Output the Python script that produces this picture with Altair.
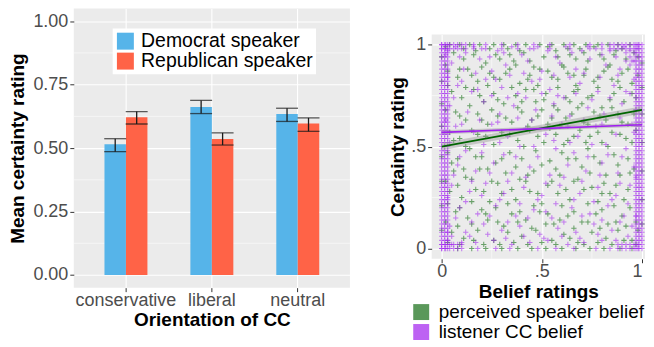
import altair as alt
import pandas as pd

# ---------------- left panel data ----------------
orientations = ["conservative", "liberal", "neutral"]
speakers = ["Democrat speaker", "Republican speaker"]
mean_dem = [0.515, 0.662, 0.634]
lo_dem = [0.486, 0.636, 0.605]
hi_dem = [0.537, 0.688, 0.657]
mean_rep = [0.622, 0.536, 0.597]
lo_rep = [0.595, 0.512, 0.566]
hi_rep = [0.644, 0.560, 0.619]
bar_colors = ["#56B4E9", "#FF6347"]
minor_left = [0.125, 0.375, 0.625, 0.875]

# ---------------- right panel data ----------------
series_names = ["perceived speaker belief", "listener CC belief"]
fit_y0 = [0.500, 0.570]
fit_y1 = [0.680, 0.607]
fit_se = [0.018, 0.010]

green_pts = [
    (4,100),(9,100),(14,100),(19,100),(26,100),(31,100),(37,100),(42,100),(49,100),(55,100),(61,100),(66,100),
    (72,100),(78,100),(83,100),(88,100),(94,100),
    (6,96),(11,93),(17,97),(22,91),(27,95),(33,98),(36,92),(41,96),(46,89),(51,94),(57,97),(60,90),(64,95),
    (69,98),(73,92),(79,95),(84,90),(87,97),(92,93),(96,96),
    (3,87),(8,84),(13,88),(18,82),(24,86),(29,83),(34,88),(39,81),(44,85),(48,80),(53,87),(58,83),(63,86),
    (67,80),(71,85),(76,82),(81,87),(85,83),(90,86),(95,81),
    (5,77),(10,74),(16,78),(21,72),(26,76),(31,71),(37,75),(42,78),(47,72),(52,76),(56,70),(62,74),(66,77),
    (70,71),(75,75),(80,69),(86,76),(91,72),(97,74),
    (7,67),(12,63),(18,66),(23,61),(28,65),(35,62),(40,67),(45,63),(50,68),(55,64),(59,60),(65,66),(71,62),
    (76,67),(82,63),(88,66),(93,61),
    (4,57),(9,54),(15,58),(22,55),(30,57),(38,53),(44,58),(51,52),(57,56),(63,53),(69,58),(74,55),(80,52),
    (85,57),(92,54),(97,58),
    (3,47),(8,44),(14,49),(20,45),(27,42),(34,47),(40,44),(47,48),(54,43),(60,47),(67,44),(73,49),(79,42),
    (86,46),(93,44),
    (6,38),(12,35),(19,39),(25,33),(32,37),(39,34),(46,38),(53,31),(59,36),(66,33),(74,37),(81,32),(89,36),(96,39),
    (4,28),(10,25),(17,29),(24,23),(30,27),(37,24),(44,28),(50,22),(58,27),(64,24),(71,29),(78,23),(84,27),(91,24),
    (7,18),(13,15),(20,19),(28,13),(35,17),(42,14),(49,18),(56,12),(63,16),(70,13),(77,17),(83,12),(90,16),(97,13),
    (5,8),(11,5),(18,9),(26,4),(33,8),(40,6),(47,9),(55,4),(61,7),(68,3),(75,8),(82,5),(88,9),(95,4),
    (8,0),(15,0),(22,0),(30,0),(38,0),(45,0),(52,0),(60,0),(67,0),(74,0),(81,0),(89,0),(95,0),
    (0,94),(0,82),(0,71),(0,60),(0,45),(0,33),(0,21),(0,9),
    (100,91),(100,79),(100,66),(100,52),(100,38),(100,24),(100,12),
    (2,99),(11,98),(16,95),(24,98),(29,93),(34,95),(39,97),(44,92),(53,99),(58,94),(63,98),(67,93),(71,96),
    (76,99),(81,93),(86,95),(90,98),(98,94),
    (2,90),(9,88),(15,85),(20,89),(26,84),(32,86),(37,90),(43,83),(49,88),(55,84),(61,89),(66,85),(72,88),
    (78,84),(83,89),(88,82),(93,88),(98,85),
    (3,80),(12,79),(19,75),(23,80),(28,73),(35,79),(40,72),(46,78),(51,73),(58,79),(64,72),(68,78),(73,74),
    (78,79),(84,73),(89,79),(95,76),
    (2,68),(9,65),(14,70),(20,63),(25,68),(32,64),(38,69),(43,60),(48,65),(53,61),(58,68),(62,64),(68,69),
    (73,61),(79,65),(85,69),(90,62),(96,66),
    (6,53),(12,50),(18,56),(26,51),(34,56),(41,50),(48,55),(54,59),(61,51),(66,55),(72,52),(78,57),(83,50),
    (89,56),(95,52),
    (5,42),(11,39),(17,45),(23,39),(30,44),(37,40),(43,36),(50,41),(57,39),(63,44),(70,40),(76,45),(82,36),
    (88,41),(94,37),
    (2,33),(8,31),(15,34),(21,28),(28,32),(35,29),(42,33),(48,27),(55,33),(62,29),(68,34),(75,30),(80,27),
    (87,31),(93,29),
    (3,22),(9,20),(15,23),(22,17),(27,20),(33,22),(39,18),(46,21),(53,17),(60,21),(66,18),(73,22),(80,19),
    (86,21),(94,20),
    (2,13),(8,11),(15,12),(23,14),(31,11),(38,13),(45,10),(52,12),(59,14),(66,10),(73,13),(79,10),(87,13),
    (92,11),(98,9),
    (3,3),(9,2),(16,4),(21,2),(29,2),(36,3),(43,2),(50,3),(57,2),(64,5),(71,2),(78,3),(85,2),(91,4),(97,2),
]
purple_pts = [
    (3,97),(7,99),(12,96),(20,98),(28,97),(35,99),(44,98),(53,97),(62,99),(70,97),(77,98),(84,97),(91,99),
    (5,91),(11,88),(19,93),(25,87),(32,90),(43,92),(50,87),(59,91),(67,88),(74,93),(82,90),(89,88),(95,92),
    (8,80),(15,77),(22,83),(30,79),(38,76),(45,82),(54,78),(61,74),(69,81),(78,77),(86,80),(94,76),
    (4,70),(13,67),(21,72),(29,66),(36,70),(47,68),(56,71),(64,65),(73,69),(81,66),(90,71),(97,68),
    (7,60),(16,57),(25,61),(33,55),(42,59),(52,56),(60,61),(68,55),(77,60),(87,56),(95,61),
    (4,52),(12,48),(21,51),(31,46),(39,50),(48,45),(57,49),(66,47),(75,51),(83,46),(92,49),
    (8,41),(17,38),(26,42),(35,37),(44,40),(54,36),(63,41),(72,38),(80,42),(88,37),(96,40),
    (5,31),(14,28),(22,32),(31,27),(41,30),(50,26),(59,31),(69,27),(78,30),(87,26),(94,31),
    (9,20),(18,17),(27,21),(37,16),(46,19),(55,15),(65,20),(74,17),(83,21),(91,16),
    (4,11),(12,8),(21,12),(30,9),(39,11),(49,7),(58,10),(67,8),(76,12),(85,9),(95,11),
    (17,3),(26,4),(35,2),(44,3),(53,4),(63,2),(71,3),(80,4),
    (18,0),(27,0),(34,0),(48,0),(57,0),(66,0),(77,0),(84,0),
    (92,96),(94,94),(96,92),(92,92),(96,96),(94,90),(3,4),(5,6),(3,8),(5,2),
    (2,95),(9,94),(16,99),(24,94),(31,96),(40,95),(48,99),(57,94),(65,96),(73,99),(80,95),(87,94),(94,97),
    (3,84),(10,82),(17,86),(27,83),(34,85),(41,86),(49,83),(56,85),(64,84),(71,86),(79,84),(88,85),(96,83),
    (6,74),(18,78),(25,75),(33,74),(42,74),(50,76),(58,75),(67,76),(75,73),(84,74),(92,77),
    (2,63),(10,61),(19,63),(28,62),(38,64),(45,63),(55,65),(63,60),(71,63),(80,61),(89,64),(96,57),
    (9,45),(20,47),(29,52),(37,45),(46,50),(56,53),(64,52),(73,45),(82,51),(90,45),
    (6,36),(15,33),(24,37),(33,33),(42,35),(52,32),(61,35),(70,33),(79,36),(89,32),(97,35),
    (3,25),(12,23),(20,26),(29,24),(39,22),(48,24),(57,22),(66,24),(76,23),(85,24),(93,22),
    (7,15),(15,13),(24,16),(33,13),(43,15),(52,18),(61,13),(70,16),(80,14),(89,13),(97,16),
    (10,3),(14,6),(23,7),(32,5),(41,6),(51,5),(60,6),(69,5),(78,7),(87,4),(93,6),
]
edge_col_y = [0,2,4,6,8,10,12,14,16,18,20,22,24,26,28,30,32,34,36,38,40,42,44,46,48,50,
              52,54,56,58,60,62,64,66,68,70,72,74,76,78,80,82,84,86,88,90,92,94,96,98,100]
edge_col_x = [0, 1.5, 3, 97, 98.5, 100]
edge_top_x = [0, 2, 4, 6, 8, 10, 12, 16, 22, 30, 38, 46, 54, 64, 74, 80, 84, 86, 88, 90, 92, 94, 96, 98]
edge_top_y = [100, 98]
edge_bot_x = [0, 2, 4, 6, 8, 10, 88, 90, 92, 94, 96, 98]
edge_bot_y = [0, 2]
minor_right = [0.25, 0.75]

FONT = "Liberation Sans"

# ---------------- build tables ----------------
bar_rows = []
for i, o in enumerate(orientations):
    bar_rows.append(dict(orientation=o, speaker=speakers[0], mean=mean_dem[i], lo=lo_dem[i], hi=hi_dem[i]))
    bar_rows.append(dict(orientation=o, speaker=speakers[1], mean=mean_rep[i], lo=lo_rep[i], hi=hi_rep[i]))
bars_df = pd.DataFrame(bar_rows)

pts = [dict(series=series_names[0], x=a / 100, y=b / 100) for a, b in green_pts]
purple_all = list(purple_pts)
for cx in edge_col_x:
    for cy in edge_col_y:
        purple_all.append((cx, cy))
for ty in edge_top_y:
    for tx in edge_top_x:
        purple_all.append((tx, ty))
for by in edge_bot_y:
    for bx in edge_bot_x:
        purple_all.append((bx, by))
pts += [dict(series=series_names[1], x=a / 100, y=b / 100) for a, b in purple_all]
pts_df = pd.DataFrame(pts)

fit_rows = []
for i, s in enumerate(series_names):
    fit_rows.append(dict(series=s, x=0.0, y=fit_y0[i], lo=fit_y0[i] - fit_se[i], hi=fit_y0[i] + fit_se[i]))
    fit_rows.append(dict(series=s, x=1.0, y=fit_y1[i], lo=fit_y1[i] - fit_se[i], hi=fit_y1[i] + fit_se[i]))
fit_df = pd.DataFrame(fit_rows)

# ---------------- left chart ----------------
x_enc = alt.X("orientation:N",
              scale=alt.Scale(domain=orientations, paddingInner=0.5, paddingOuter=0.357),
              axis=alt.Axis(title="Orientation of CC", labelAngle=0, bandPosition=0.5,
                            labelPadding=0, titlePadding=1))
xo_enc = alt.XOffset("speaker:N", scale=alt.Scale(domain=speakers, paddingInner=0, paddingOuter=0))
y_scale = alt.Scale(domain=[-0.05, 1.05], nice=False, zero=False)

minor_l = alt.Chart(pd.DataFrame({"v": minor_left})).mark_rule(color="white", strokeWidth=0.55).encode(
    y=alt.Y("v:Q", scale=y_scale,
            axis=alt.Axis(title="Mean certainty rating", values=[0, 0.25, 0.5, 0.75, 1], format=".2f",
                          titlePadding=5)))

bars = alt.Chart(bars_df).mark_bar().encode(
    x=x_enc, xOffset=xo_enc,
    y=alt.Y("mean:Q", scale=y_scale), y2=alt.datum(0),
    fill=alt.Fill("speaker:N", scale=alt.Scale(domain=speakers, range=bar_colors),
                  legend=alt.Legend(title=None, orient="none", legendX=39, legendY=20,
                                    symbolType="square", symbolSize=289, symbolStrokeWidth=0,
                                    symbolOpacity=1, labelFontSize=19.5, labelColor="black",
                                    labelFont=FONT, labelLimit=400,
                                    fillColor="white", padding=3, rowPadding=-5.5, labelOffset=6)))

err = alt.Chart(bars_df).mark_rule(color="#1a1a1a", strokeWidth=1.3).encode(
    x=x_enc, xOffset=xo_enc, y=alt.Y("lo:Q", scale=y_scale), y2="hi:Q")
cap_lo = alt.Chart(bars_df).mark_tick(color="#1a1a1a", size=22, thickness=1.3, orient="horizontal").encode(
    x=x_enc, xOffset=xo_enc, y=alt.Y("lo:Q", scale=y_scale))
cap_hi = alt.Chart(bars_df).mark_tick(color="#1a1a1a", size=22, thickness=1.3, orient="horizontal").encode(
    x=x_enc, xOffset=xo_enc, y=alt.Y("hi:Q", scale=y_scale))

left = alt.layer(minor_l, bars, err, cap_lo, cap_hi).properties(width=277, height=280)

# ---------------- right chart ----------------
rx_scale = alt.Scale(domain=[-0.05, 1.015], nice=False, zero=False)
ry_scale = alt.Scale(domain=[-0.05, 1.05], nice=False, zero=False)
lab = "datum.value == 0 ? '0' : datum.value == 1 ? '1' : '.5'"
rx = alt.X("x:Q", scale=rx_scale,
           axis=alt.Axis(title="Belief ratings", values=[0, 0.5, 1], labelExpr=lab, labelFlush=5,
                         labelPadding=0, titlePadding=2))
ry = alt.Y("y:Q", scale=ry_scale,
           axis=alt.Axis(title="Certainty rating", values=[0, 0.5, 1], labelExpr=lab, titlePadding=3))
stroke_scale = alt.Scale(domain=series_names, range=["#006400", "#A020F0"])

minor_rx = alt.Chart(pd.DataFrame({"x": minor_right})).mark_rule(color="white", strokeWidth=0.55).encode(x=rx)
minor_ry = alt.Chart(pd.DataFrame({"y": minor_right})).mark_rule(color="white", strokeWidth=0.55).encode(y=ry)

points = alt.Chart(pts_df).mark_point(shape="M-1,0L1,0M0,-1L0,1", filled=False, size=28,
                                      strokeWidth=1.05, opacity=0.55, clip=True).encode(
    x=rx, y=ry, stroke=alt.Stroke("series:N", scale=stroke_scale, legend=None))

band = alt.Chart(fit_df).mark_area(color="#9a9a9a", opacity=0.45, clip=True).encode(
    x=rx, y=alt.Y("lo:Q", scale=ry_scale), y2="hi:Q", detail="series:N")
lines = alt.Chart(fit_df).mark_line(strokeWidth=1.7, clip=True).encode(
    x=rx, y=ry, stroke=alt.Stroke("series:N", scale=stroke_scale, legend=None))

legend_layer = alt.Chart(pd.DataFrame({"series": series_names})).transform_filter("false").mark_square(
    opacity=1).encode(
    x=alt.value(0), y=alt.value(0),
    fill=alt.Fill("series:N", scale=alt.Scale(domain=series_names, range=["#5A985A", "#BD62F3"]),
                  legend=alt.Legend(title=None, orient="none", legendX=-20, legendY=295,
                                    symbolType="square", symbolSize=256, symbolStrokeWidth=0,
                                    symbolOpacity=1, labelFontSize=19, labelColor="black",
                                    labelFont=FONT, labelLimit=400,
                                    padding=0, rowPadding=-7.4, labelOffset=8)))

right = alt.layer(minor_rx, minor_ry, points, band, lines, legend_layer).properties(width=214, height=225)

spacer = alt.Chart(pd.DataFrame({"v": [0]})).mark_point(opacity=0, size=1).encode(
    x=alt.value(100), y=alt.value(12)).properties(
    width=214, height=25, view=alt.ViewBackground(fill="transparent", strokeWidth=0))

right_block = alt.vconcat(spacer, right, spacing=0)

chart = alt.hconcat(left, right_block, spacing=37).resolve_scale(
    fill="independent").resolve_legend(fill="independent").properties(
    padding={"left": 0, "top": 0, "right": 0, "bottom": 0}
).configure(font=FONT).configure_view(fill="#EBEBEB", strokeWidth=0).configure_axis(
    domain=False, tickColor="#333333", tickSize=4, tickWidth=1, labelColor="#4D4D4D",
    labelFontSize=18, labelFont=FONT, titleFont=FONT, titleFontSize=19, titleFontWeight="bold",
    titleColor="black", labelPadding=2, gridColor="white", gridWidth=1.1, grid=True
)

chart.save("out.html", embed_options={"renderer": "svg", "actions": False})
